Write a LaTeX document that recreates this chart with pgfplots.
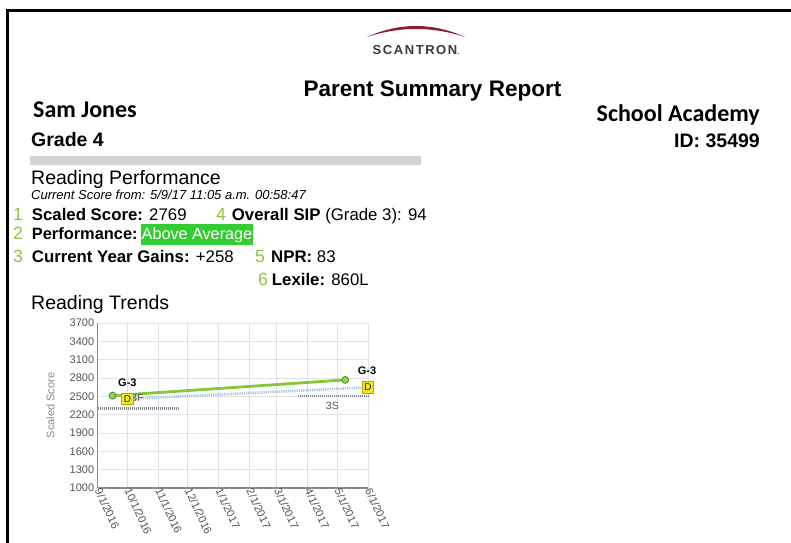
\documentclass[border=0pt]{standalone}
\usepackage{pgfplots}
\pgfplotsset{compat=1.18}
\usepackage{fontspec}
\setmainfont{Liberation Sans}
\newfontfamily\carlito{Carlito}
\newfontfamily\scanfont[LetterSpace=12]{Liberation Sans}
\definecolor{numgreen}{HTML}{8DC63F}
\definecolor{boxgreen}{HTML}{33CC33}
\definecolor{barg}{HTML}{D3D3D3}
\definecolor{logored}{HTML}{8E1B32}
\definecolor{logotext}{HTML}{3A3A3A}
\definecolor{gridc}{HTML}{E2E2E2}
\definecolor{axisc}{HTML}{8A8A8A}
\definecolor{tickc}{HTML}{555555}
\definecolor{lineg}{HTML}{84C83A}
\definecolor{markg}{HTML}{4E9A2A}
\definecolor{markfill}{HTML}{9BD35A}
\definecolor{blued}{HTML}{A8C8E0}
\definecolor{grayd}{HTML}{7D8C9A}
\definecolor{dfill}{HTML}{F2E81C}
\definecolor{dedge}{HTML}{B5A500}
\newcommand\fs[1]{\fontsize{#1}{#1}\selectfont}
\newcommand\T[4][base west]{\node[anchor=#1,inner sep=0pt] at (#2pt,-#3pt) {#4};}
\begin{document}
\begin{tikzpicture}
\path[use as bounding box] (0,0) rectangle (791pt,-542pt);
\fill[white] (0,0) rectangle (791pt,-542pt);
\draw[line width=2.6pt, line join=miter] (7.3pt,-545pt) -- (7.3pt,-10.5pt) -- (795pt,-10.5pt);
% logo
\fill[logored] (367pt,-37pt) .. controls (399.7pt,-22.3pt) and (432.3pt,-22.3pt) .. (465pt,-37pt)
  .. controls (432.3pt,-26.3pt) and (399.7pt,-26.3pt) .. (367pt,-37pt) -- cycle;
\T[base]{416}{54.3}{\scanfont\bfseries\fs{13}\color{logotext}SCANTRON{\fs{7}.}}
% header
\T[base]{432.5}{96.7}{\bfseries\fs{22.5}Parent Summary Report}
\T{33}{117.3}{\carlito\bfseries\fs{24}Sam Jones}
\T[base east]{760}{121}{\carlito\bfseries\fs{24}School Academy}
\T{31}{146.7}{\bfseries\fs{19.5}Grade 4}
\T[base east]{760}{147}{\bfseries\fs{19.5}ID: 35499}
\fill[barg] (30pt,-156pt) rectangle (420.7pt,-165pt);
% performance block
\T{31}{184}{\fs{19.5}Reading Performance}
\T{31}{199.3}{\itshape\fs{13}Current Score from: 5/9/17 11:05 a.m. 00:58:47}
\T{13}{220}{\color{numgreen}\fs{17.7}1}
\T{31.7}{220}{\fs{16.8}\textbf{Scaled Score:} 2769}
\T{216}{220.5}{\color{numgreen}\fs{17.7}4}
\T{231.7}{220.5}{\fs{16.8}\textbf{Overall SIP} (Grade 3): 94}
\T{13}{239}{\color{numgreen}\fs{17.7}2}
\T{31.7}{239}{\fs{16.4}\textbf{Performance:}}
\fill[boxgreen] (140.5pt,-224pt) rectangle (253pt,-244.5pt);
\T{141.5}{239}{\color{white}\fs{16.2}Above Average}
\T{13}{262.7}{\color{numgreen}\fs{17.7}3}
\T{31.7}{262.7}{\fs{16.8}\textbf{Current Year Gains:} +258}
\T{255}{262.7}{\color{numgreen}\fs{17.7}5}
\T{271}{262.7}{\fs{16.8}\textbf{NPR:} 83}
\T{258}{285.7}{\color{numgreen}\fs{17.7}6}
\T{271.7}{285.7}{\fs{16.8}\textbf{Lexile:} 860L}
\T{31}{309}{\fs{19.5}Reading Trends}
% chart
\begin{axis}[
  at={(97.7pt,-488pt)}, anchor=south west, scale only axis,
  width=270.3pt, height=165pt,
  xmin=0, xmax=273, ymin=1000, ymax=3700,
  xtick={0,30,61,91,122,153,181,212,242,273},
  xticklabels={9/1/2016,10/1/2016,11/1/2016,12/1/2016,1/1/2017,2/1/2017,3/1/2017,4/1/2017,5/1/2017,6/1/2017},
  ytick={1000,1300,...,3700},
  grid=major, major grid style={draw=gridc, line width=0.9pt},
  axis x line*=bottom, axis y line*=left,
  axis line style={draw=axisc, line width=1.1pt, -},
  tick style={draw=none},
  /pgf/number format/assume math mode=true,
  /pgf/number format/1000 sep={},
  tick label style={font=\fs{11}, text=tickc},
  xticklabel style={rotate=-65, anchor=west, inner sep=1pt},
  ylabel={Scaled Score},
  ylabel style={at={(axis description cs:-0.175,0.5)}, anchor=center, font=\fs{11}, text=axisc},
  clip=false,
]
\addplot[draw=grayd, line width=2.4pt, dash pattern=on 1pt off 1pt] coordinates {(0,2300) (82,2300)};
\addplot[draw=grayd, line width=2.4pt, dash pattern=on 1pt off 1pt] coordinates {(202,2505) (273,2505)};
\addplot[draw=blued, line width=2.6pt, dash pattern=on 1.2pt off 1pt] coordinates {(30,2456) (273,2648)};
\addplot[draw=lineg, line width=2.8pt, mark=*, mark size=3.4pt,
  mark options={fill=markfill, draw=markg, line width=1pt}] coordinates {(15,2511) (250,2769)};
\node[font=\fs{10.5}, text=tickc] at (axis cs:40,2473) {3F};
\node[font=\fs{10.5}, text=tickc] at (axis cs:237,2350) {3S};
\addplot[only marks, mark=square*, mark size=5.8pt,
  mark options={fill=dfill, draw=dedge, line width=0.8pt},
  nodes near coords={D},
  every node near coord/.append style={anchor=center, font=\fs{10}, text=black!85}]
  coordinates {(30,2456) (273,2648)};
\node[font=\bfseries\fs{11}] at (axis cs:30,2718) {G-3};
\node[font=\bfseries\fs{11}] at (axis cs:272,2925) {G-3};
\end{axis}
\end{tikzpicture}
\end{document}
